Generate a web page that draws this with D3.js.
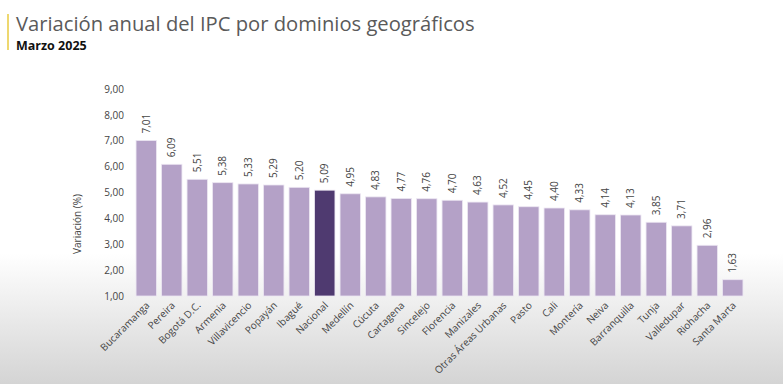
<!DOCTYPE html>
<html>
<head>
<meta charset="utf-8">
<script src="https://cdn.jsdelivr.net/npm/d3@7/dist/d3.min.js"></script>
<style>
  html, body { margin: 0; padding: 0; background: #fff; }
</style>
</head>
<body>
<div id="chart"></div>
<script>
const regions = ["Bucaramanga", "Pereira", "Bogotá D.C.", "Armenia", "Villavicencio", "Popayán", "Ibagué", "Nacional", "Medellín", "Cúcuta", "Cartagena", "Sincelejo", "Florencia", "Manizales", "Otras Áreas Urbanas", "Pasto", "Cali", "Montería", "Neiva", "Barranquilla", "Tunja", "Valledupar", "Riohacha", "Santa Marta"];
const values = [7.01, 6.09, 5.51, 5.38, 5.33, 5.29, 5.20, 5.09, 4.95, 4.83, 4.77, 4.76, 4.70, 4.63, 4.52, 4.45, 4.40, 4.33, 4.14, 4.13, 3.85, 3.71, 2.96, 1.63];
const yTicks = [1, 2, 3, 4, 5, 6, 7, 8, 9];
const highlight = "Nacional";

const data = regions.map((r, i) => ({ region: r, value: values[i] }));

const W = 783, H = 384;
const font = "'Open Sans', 'Noto Sans', sans-serif";
const fmt = v => d3.format(".2f")(v).replace(".", ",");

const svg = d3.select("#chart")
  .append("svg")
  .attr("width", W)
  .attr("height", H)
  .style("font-family", font);

// background: white fading to grey at the bottom
const defs = svg.append("defs");
const bg = defs.append("linearGradient")
  .attr("id", "bg")
  .attr("x1", "0").attr("y1", "0").attr("x2", "0").attr("y2", "1");
bg.append("stop").attr("offset", "0%").attr("stop-color", "#ffffff");
bg.append("stop").attr("offset", "66%").attr("stop-color", "#ffffff");
bg.append("stop").attr("offset", "100%").attr("stop-color", "#d4d4d4");
svg.append("rect").attr("width", W).attr("height", H).attr("fill", "url(#bg)");

// title block
svg.append("rect")
  .attr("x", 7).attr("y", 14).attr("width", 2).attr("height", 36)
  .attr("fill", "#eed870");
svg.append("text")
  .attr("x", 16).attr("y", 31)
  .attr("font-size", 20.2)
  .attr("fill", "#5a5a5a")
  .text("Variación anual del IPC por dominios geográficos");
svg.append("text")
  .attr("x", 16).attr("y", 50)
  .attr("font-size", 12.5)
  .attr("font-weight", "bold")
  .attr("fill", "#111")
  .text("Marzo 2025");

// scales
const x = d3.scaleBand()
  .domain(regions)
  .range([133.5, 745.5])
  .paddingInner(0.2)
  .paddingOuter(0.1);

const y = d3.scaleLinear()
  .domain([1, 9])
  .range([296, 89]);

// y axis
const yAxis = svg.append("g")
  .attr("transform", "translate(126,0)")
  .call(d3.axisLeft(y).tickValues(yTicks).tickSize(0).tickPadding(2).tickFormat(fmt));
yAxis.select(".domain").remove();
yAxis.selectAll("text")
  .attr("font-family", font)
  .attr("font-size", 10)
  .attr("fill", "#444");

svg.append("text")
  .attr("transform", "translate(81,224) rotate(-90)")
  .attr("text-anchor", "middle")
  .attr("font-size", 10)
  .attr("fill", "#444")
  .text("Variación (%)");

// bars
svg.append("g")
  .selectAll("rect")
  .data(data)
  .join("rect")
  .attr("x", d => x(d.region))
  .attr("y", d => y(d.value))
  .attr("width", x.bandwidth())
  .attr("height", d => y(1) - y(d.value))
  .attr("fill", d => d.region === highlight ? "#4f3a70" : "#b4a1c7")
  .attr("stroke", "#ece6f2")
  .attr("stroke-width", 0.8);

// value labels
svg.append("g")
  .selectAll("text")
  .data(data)
  .join("text")
  .attr("transform", d => `translate(${x(d.region) + x.bandwidth() / 2 + 3.5},${y(d.value) - 7}) rotate(-90)`)
  .attr("font-size", 10)
  .attr("fill", "#444")
  .text(d => fmt(d.value));

// x axis labels
const xAxis = svg.append("g")
  .attr("transform", "translate(0,298)")
  .call(d3.axisBottom(x).tickSize(0).tickPadding(0));
xAxis.select(".domain").remove();
xAxis.selectAll("text")
  .attr("font-family", font)
  .attr("font-size", 10)
  .attr("fill", "#444")
  .attr("text-anchor", "end")
  .attr("dy", "0")
  .attr("transform", "translate(4,8) rotate(-45)");
</script>
</body>
</html>
